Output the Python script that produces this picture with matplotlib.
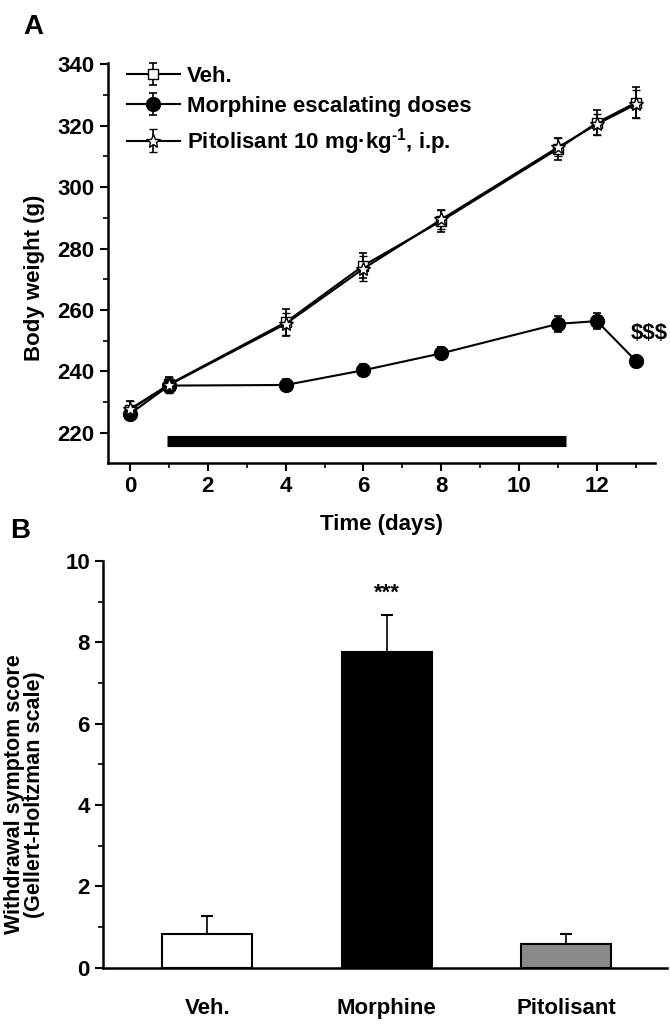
import matplotlib
matplotlib.use("Agg")
import matplotlib.pyplot as plt
import numpy as np

plt.rcParams['font.family'] = ['Liberation Sans', 'DejaVu Sans']
plt.rcParams['font.weight'] = 'bold'
plt.rcParams['mathtext.fontset'] = 'custom'
plt.rcParams['mathtext.bf'] = 'Liberation Sans:bold'
plt.rcParams['mathtext.rm'] = 'Liberation Sans:bold'
plt.rcParams['mathtext.default'] = 'bf'

# ---- Panel A data ----
days = [0, 1, 4, 6, 8, 11, 12, 13]
veh_mean = [227.5, 235.8, 256.0, 274.5, 289.0, 312.5, 321.0, 327.5]
veh_err = [3.0, 2.5, 4.5, 4.0, 3.5, 3.5, 4.0, 5.0]
morph_mean = [226.2, 235.4, 235.6, 240.4, 245.9, 255.5, 256.4, 243.5]
morph_err = [2.0, 2.0, 2.0, 2.0, 2.0, 2.5, 2.5, 1.5]
pito_mean = [227.8, 235.6, 255.5, 273.5, 289.5, 313.0, 320.5, 327.0]
pito_err = [2.5, 2.5, 3.5, 4.0, 3.0, 3.0, 3.5, 4.5]
series_labels = ['Veh.', 'Morphine escalating doses', 'Pitolisant 10 mg\u00b7kg$^{\\mathbf{\u2010}1}$, i.p.']
treatment_bar = [0.95, 11.2]

# ---- Panel B data ----
groups = ['Veh.', 'Morphine', 'Pitolisant']
score_mean = [0.84, 7.75, 0.57]
score_err = [0.43, 0.92, 0.25]
bar_colors = ['white', 'black', '#8a8a8a']

fig = plt.figure(figsize=(6.7, 10.3), dpi=100)

fs = 16
tfs = 16
axA = fig.add_axes([0.161, 0.5505, 0.817, 0.3885])
ek = dict(capsize=3, elinewidth=1.2, capthick=1.2, color='black', lw=1.5)
axA.errorbar(days, veh_mean, yerr=veh_err, marker='s', ms=7, mfc='white', mec='black',
             label=series_labels[0], **ek)
axA.errorbar(days, morph_mean, yerr=morph_err, marker='o', ms=10, mfc='black', mec='black',
             label=series_labels[1], **ek)
axA.errorbar(days, pito_mean, yerr=pito_err, marker='*', ms=10, mfc='white', mec='black',
             mew=1.0, label=series_labels[2], **ek)
axA.plot(treatment_bar, [217.3, 217.3], color='black', lw=8, solid_capstyle='butt')
axA.text(13.35, 252.5, '$$$', ha='center', va='center', fontsize=fs, fontweight='bold')

axA.set_xlim(-0.57, 13.5)
axA.set_ylim(210.2, 340.5)
axA.set_xticks(range(0, 13, 2))
axA.set_xticks(range(1, 14, 2), minor=True)
axA.set_yticks(range(220, 341, 20))
axA.set_yticks(range(230, 341, 20), minor=True)
for s in ['top', 'right']:
    axA.spines[s].set_visible(False)
for s in ['left', 'bottom']:
    axA.spines[s].set_linewidth(1.8)
axA.tick_params(which='major', length=6, width=1.5, labelsize=tfs)
axA.tick_params(which='minor', length=3.5, width=1.2)
for t in axA.get_xticklabels() + axA.get_yticklabels():
    t.set_fontweight('bold')
axA.set_xlabel('Time (days)', fontsize=fs, fontweight='bold', labelpad=12)
axA.set_ylabel('Body weight (g)', fontsize=fs, fontweight='bold')
axA.yaxis.set_label_coords(-0.115, 0.4625)
leg = axA.legend(loc='upper left', bbox_to_anchor=(0.01, 1.025), frameon=False,
                 prop={'size': fs, 'weight': 'bold'}, handlelength=2.4,
                 handletextpad=0.3, labelspacing=0.4, borderaxespad=0.2)

fig.text(0.035, 0.974, 'A', fontsize=20, fontweight='bold', va='center')
fig.text(0.015, 0.484, 'B', fontsize=20, fontweight='bold', va='center')

# ---- Panel B ----
axB = fig.add_axes([0.154, 0.0605, 0.841, 0.395])
xpos = np.arange(1, len(groups) + 1)
axB.bar(xpos, score_mean, width=0.5, color=bar_colors, edgecolor='black', linewidth=1.5, zorder=2)
axB.errorbar(xpos, score_mean, yerr=[np.zeros(len(score_err)), score_err], fmt='none',
             ecolor='black', capsize=4, elinewidth=1.2, capthick=1.5, zorder=1)
axB.text(2, 9.2, '***', ha='center', va='center', fontsize=fs, fontweight='bold')
axB.set_xlim(0.42, 3.56)
axB.set_ylim(0, 10)
axB.set_xticks(xpos, groups)
axB.set_xticks([2], minor=True)
axB.tick_params(axis='x', which='major', length=0, pad=22, labelsize=tfs)
axB.tick_params(axis='x', which='minor', length=6, width=1.5)
axB.set_yticks(range(0, 11, 2))
axB.set_yticks(range(1, 10, 2), minor=True)
axB.tick_params(axis='y', which='major', length=6, width=1.5, labelsize=tfs)
axB.tick_params(axis='y', which='minor', length=3.5, width=1.2)
for t in axB.get_xticklabels() + axB.get_yticklabels():
    t.set_fontweight('bold')
for s in ['top', 'right']:
    axB.spines[s].set_visible(False)
for s in ['left', 'bottom']:
    axB.spines[s].set_linewidth(1.8)
axB.set_ylabel('Withdrawal symptom score\n(Gellert-Holtzman scale)', fontsize=15.5,
               fontweight='bold', linespacing=0.88)
axB.yaxis.set_label_coords(-0.104, 0.426)

fig.savefig('out.png', dpi=100)
